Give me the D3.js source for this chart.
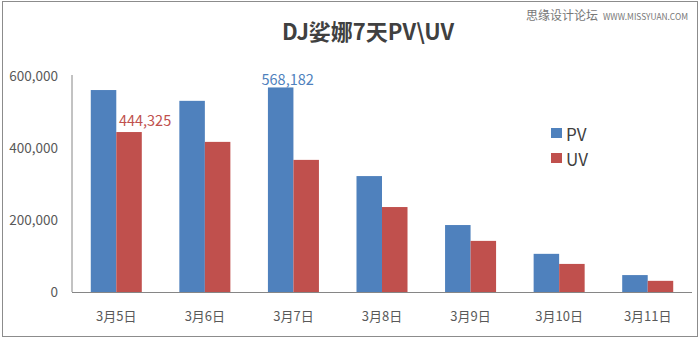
<!DOCTYPE html>
<html>
<head>
<meta charset="utf-8">
<script src="https://cdn.jsdelivr.net/npm/d3@7"></script>
<style>
  html, body { margin: 0; padding: 0; background: #fff; }
  svg { display: block; }
  text { font-family: "Noto Sans CJK SC", "Noto Sans", sans-serif; }
</style>
</head>
<body>
<svg id="chart" width="700" height="340"></svg>
<script>
// Daily page views and unique visitors
const categories = ["3月5日", "3月6日", "3月7日", "3月8日", "3月9日", "3月10日", "3月11日"];
const seriesNames = ["PV", "UV"];
const pvValues = [561000, 531000, 568182, 322000, 186000, 106000, 47000];
const uvValues = [444325, 417000, 367000, 236000, 142000, 78000, 31000];
const yTicks = [0, 200000, 400000, 600000];
// value labels shown on the chart: [series index, category index]
const labelled = [[1, 0], [0, 2]];

const colors = ["#4f81bd", "#c0504d"];
const series = [pvValues, uvValues];
// label placement relative to the bar's top centre: [dx, dy] per labelled bar
const labelNudge = [[16, -6], [7, -2]];

const svg = d3.select("#chart");

// outer frame
svg.append("rect")
  .attr("x", 2.5).attr("y", 1.5)
  .attr("width", 695).attr("height", 335)
  .attr("fill", "#fff").attr("stroke", "#8c8c8c").attr("stroke-width", 1);

// title and site mark
svg.append("text")
  .attr("x", 368).attr("y", 40)
  .attr("text-anchor", "middle")
  .attr("font-size", 22).attr("font-weight", "bold")
  .attr("fill", "#404040")
  .text("DJ娑娜7天PV\\UV");

svg.append("text")
  .attr("x", 526).attr("y", 20)
  .attr("font-size", 12).attr("fill", "#777")
  .text("思缘设计论坛");
svg.append("text")
  .attr("x", 603).attr("y", 19.5)
  .attr("font-size", 8.5).attr("fill", "#777")
  .attr("font-family", "DejaVu Sans Mono, monospace")
  .attr("textLength", 85).attr("lengthAdjust", "spacingAndGlyphs")
  .text("WWW.MISSYUAN.COM");

// scales
const x0 = d3.scaleBand().domain(categories).range([72, 692]).paddingInner(0.424).paddingOuter(0.212);
const x1 = d3.scaleBand().domain(seriesNames).range([0, x0.bandwidth()]);
const y = d3.scaleLinear().domain([0, 600000]).range([292, 76]);

// bars
const groups = svg.append("g").selectAll("g")
  .data(categories)
  .join("g")
  .attr("transform", d => `translate(${x0(d)},0)`);

groups.selectAll("rect")
  .data((d, i) => series.map((s, k) => ({ k, v: s[i] })))
  .join("rect")
  .attr("x", d => x1(seriesNames[d.k]))
  .attr("width", x1.bandwidth())
  .attr("y", d => y(d.v))
  .attr("height", d => y(0) - y(d.v))
  .attr("fill", d => colors[d.k]);

// y axis
const yAxis = svg.append("g")
  .attr("transform", "translate(72,0)")
  .call(d3.axisLeft(y).tickValues(yTicks).tickFormat(d3.format(",")).tickSize(0).tickPadding(14));
yAxis.select(".domain").attr("stroke", "#868686").attr("d", `M0,${y(600000) - 1}V${y(0)}`);
yAxis.selectAll("text").attr("font-size", 13.5).attr("fill", "#595959")
  .attr("font-family", "Noto Sans CJK SC, sans-serif");

// x axis
const xAxis = svg.append("g")
  .attr("transform", `translate(0,${y(0)})`)
  .call(d3.axisBottom(x0).tickSize(0).tickPadding(20));
xAxis.select(".domain").attr("stroke", "#868686").attr("d", "M72,0.5H692");
xAxis.selectAll("text").attr("font-size", 13).attr("fill", "#595959");

// value labels
labelled.forEach(([k, i], j) => {
  const v = series[k][i];
  svg.append("text")
    .attr("x", x0(categories[i]) + x1(seriesNames[k]) + x1.bandwidth() / 2 + labelNudge[j][0])
    .attr("y", y(v) + labelNudge[j][1])
    .attr("text-anchor", "middle")
    .attr("font-size", 14.5)
    .attr("fill", colors[k])
    .text(d3.format(",")(v));
});

// legend
const legend = svg.append("g").attr("transform", "translate(551,128)");
seriesNames.forEach((name, k) => {
  const g = legend.append("g").attr("transform", `translate(0,${k * 25})`);
  g.append("rect").attr("width", 11).attr("height", 10).attr("fill", colors[k]);
  g.append("text").attr("x", 15).attr("y", 13)
    .attr("font-size", 17).attr("fill", "#404040").text(name);
});
</script>
</body>
</html>
